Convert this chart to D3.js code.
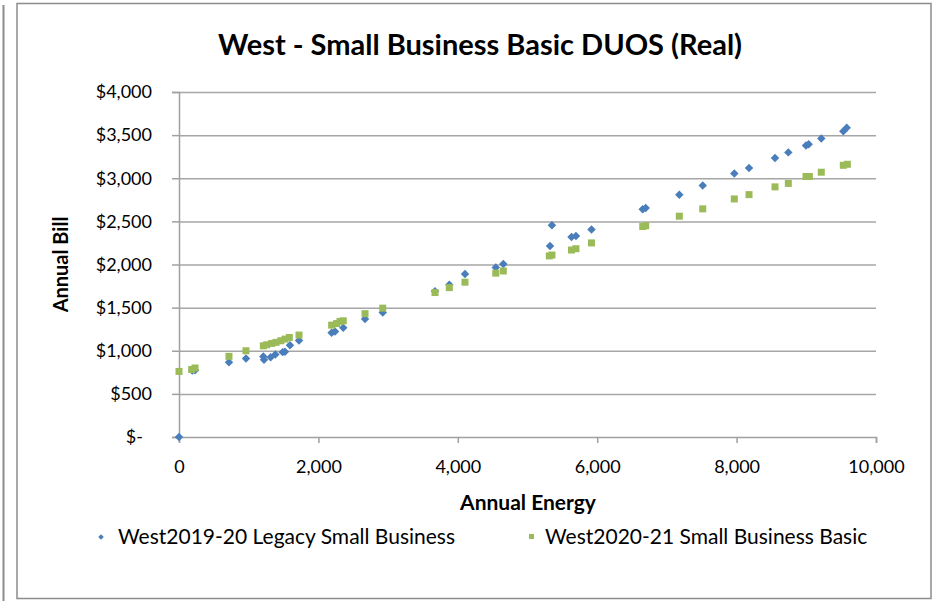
<!DOCTYPE html>
<html>
<head>
  <meta charset="utf-8">
  <title>West - Small Business Basic DUOS (Real)</title>
  <script src="https://d3js.org/d3.v7.min.js"></script>
  <style>
    body { margin: 0; background: #fff; }
    text { font-family: Lato, "Open Sans", sans-serif; fill: #000; }
  </style>
</head>
<body>
  <div id="chart"></div>
  <script>
    "use strict"

    // dados: [energia anual, conta anual]
    var legacy2019 = [
      [0, 0], [190, 770], [230, 775], [717, 868], [961, 911], [1210, 934], [1220, 896],
      [1315, 926], [1382, 957], [1487, 984], [1520, 988], [1592, 1065], [1722, 1120],
      [2190, 1209], [2238, 1224], [2357, 1267], [2669, 1367], [2923, 1444], [3673, 1690],
      [3878, 1765], [4103, 1890], [4545, 1965], [4653, 2005], [5323, 2215], [5351, 2455],
      [5631, 2320], [5695, 2330], [5918, 2405], [6653, 2640], [6696, 2655], [7178, 2810],
      [7514, 2915], [7967, 3055], [8178, 3120], [8551, 3235], [8742, 3300], [8996, 3380],
      [9034, 3395], [9215, 3460], [9531, 3545], [9580, 3585]
    ];
    var basic2020 = [
      [0, 760], [182, 783], [230, 800], [717, 935], [961, 1000], [1210, 1057], [1258, 1069],
      [1330, 1085], [1392, 1097], [1460, 1116], [1521, 1135], [1583, 1154], [1722, 1182],
      [2190, 1297], [2262, 1315], [2310, 1340], [2357, 1347], [2669, 1430], [2923, 1494],
      [3673, 1675], [3878, 1732], [4103, 1795], [4545, 1900], [4653, 1925], [5313, 2100],
      [5351, 2110], [5631, 2168], [5695, 2183], [5918, 2250], [6653, 2440], [6696, 2450],
      [7178, 2560], [7514, 2645], [7967, 2760], [8178, 2810], [8551, 2900], [8742, 2940],
      [8996, 3020], [9044, 3020], [9215, 3070], [9531, 3150], [9589, 3162]
    ];
    var xTicks = [0, 2000, 4000, 6000, 8000, 10000];
    var yTicks = [0, 500, 1000, 1500, 2000, 2500, 3000, 3500, 4000];
    var seriesNames = ["West2019-20 Legacy Small Business", "West2020-21 Small Business Basic"];

    var larguraSVG = 933, alturaSVG = 601;
    var margin = {top: 92, right: 57, bottom: 164, left: 179};
    var larguraVis = larguraSVG - margin.left - margin.right,
        alturaVis = alturaSVG - margin.top - margin.bottom;

    var svg = d3.select("#chart").append("svg")
      .attr("width", larguraSVG)
      .attr("height", alturaSVG);

    // molduras
    svg.append("line").attr("x1", 3.5).attr("x2", 3.5).attr("y1", 5).attr("y2", 601)
      .attr("stroke", "#8c8c8c").attr("stroke-width", 2);
    svg.append("rect").attr("x", 17).attr("y", 3.5).attr("width", 914).attr("height", 595)
      .attr("fill", "none").attr("stroke", "#8c8c8c").attr("stroke-width", 1.5);

    var g = svg.append("g")
      .attr("transform", "translate(" + margin.left + "," + margin.top + ")");

    var x = d3.scaleLinear().domain([0, 10000]).range([0, larguraVis]);
    var y = d3.scaleLinear().domain([0, 4000]).range([alturaVis, 0]);

    // grade
    g.append("g").selectAll("line")
      .data(yTicks.slice(1))
      .enter().append("line")
        .attr("x1", 0).attr("x2", larguraVis)
        .attr("y1", d => y(d) + 0.5).attr("y2", d => y(d) + 0.5)
        .attr("stroke", "#a6a6a6").attr("stroke-width", 1.5);

    // eixos
    var eixoY = g.append("g")
      .call(d3.axisLeft(y).tickValues(yTicks).tickSize(7).tickPadding(20)
        .tickFormat(d => d === 0 ? "$-" : "$" + d3.format(",")(d)));
    var eixoX = g.append("g")
      .attr("transform", "translate(0," + alturaVis + ")")
      .call(d3.axisBottom(x).tickValues(xTicks).tickSize(6).tickPadding(17)
        .tickFormat(d3.format(",")));

    [eixoY, eixoX].forEach(function(e) {
      e.select(".domain").attr("stroke", "#a0a0a0").attr("stroke-width", 1.5);
      e.selectAll(".tick line").attr("stroke", "#a0a0a0").attr("stroke-width", 1.5);
      e.selectAll(".tick text").attr("font-size", 18).attr("font-family", "Lato, sans-serif").attr("fill", "#000");
    });
    eixoY.selectAll(".tick text").filter(d => d === 0).attr("dx", -9);

    // marcas: losangos (quadrado girado) e quadrados
    g.append("g").selectAll("rect")
      .data(legacy2019)
      .enter().append("rect")
        .attr("x", -3).attr("y", -3)
        .attr("width", 6).attr("height", 6)
        .attr("transform", d => "translate(" + x(d[0]) + "," + y(d[1]) + ") rotate(45)")
        .attr("fill", "#4a7ebb");

    g.append("g").selectAll("rect")
      .data(basic2020)
      .enter().append("rect")
        .attr("x", d => x(d[0]) - 3.5)
        .attr("y", d => y(d[1]) - 3.5)
        .attr("width", 7).attr("height", 7)
        .attr("fill", "#9bbb59");

    // titulos
    svg.append("text")
      .attr("x", 480).attr("y", 55)
      .attr("text-anchor", "middle")
      .attr("font-size", 29).attr("font-weight", "bold")
      .text("West - Small Business Basic DUOS (Real)");

    svg.append("text")
      .attr("transform", "translate(68," + (margin.top + alturaVis / 2) + ") rotate(-90)")
      .attr("text-anchor", "middle")
      .attr("font-size", 20).attr("font-weight", "bold")
      .text("Annual Bill");

    svg.append("text")
      .attr("x", 528).attr("y", 510)
      .attr("text-anchor", "middle")
      .attr("font-size", 21).attr("font-weight", "bold")
      .text("Annual Energy");

    // legenda
    var legenda = svg.append("g");
    legenda.append("rect")
      .attr("x", -2).attr("y", -2).attr("width", 4).attr("height", 4)
      .attr("transform", "translate(101,537) rotate(45)")
      .attr("fill", "#4a7ebb");
    legenda.append("rect")
      .attr("x", 529).attr("y", 534).attr("width", 5).attr("height", 5)
      .attr("fill", "#9bbb59");
    legenda.append("text").attr("x", 118).attr("y", 544).attr("font-size", 21).text(seriesNames[0]);
    legenda.append("text").attr("x", 545).attr("y", 544).attr("font-size", 21).text(seriesNames[1]);
  </script>
</body>
</html>
